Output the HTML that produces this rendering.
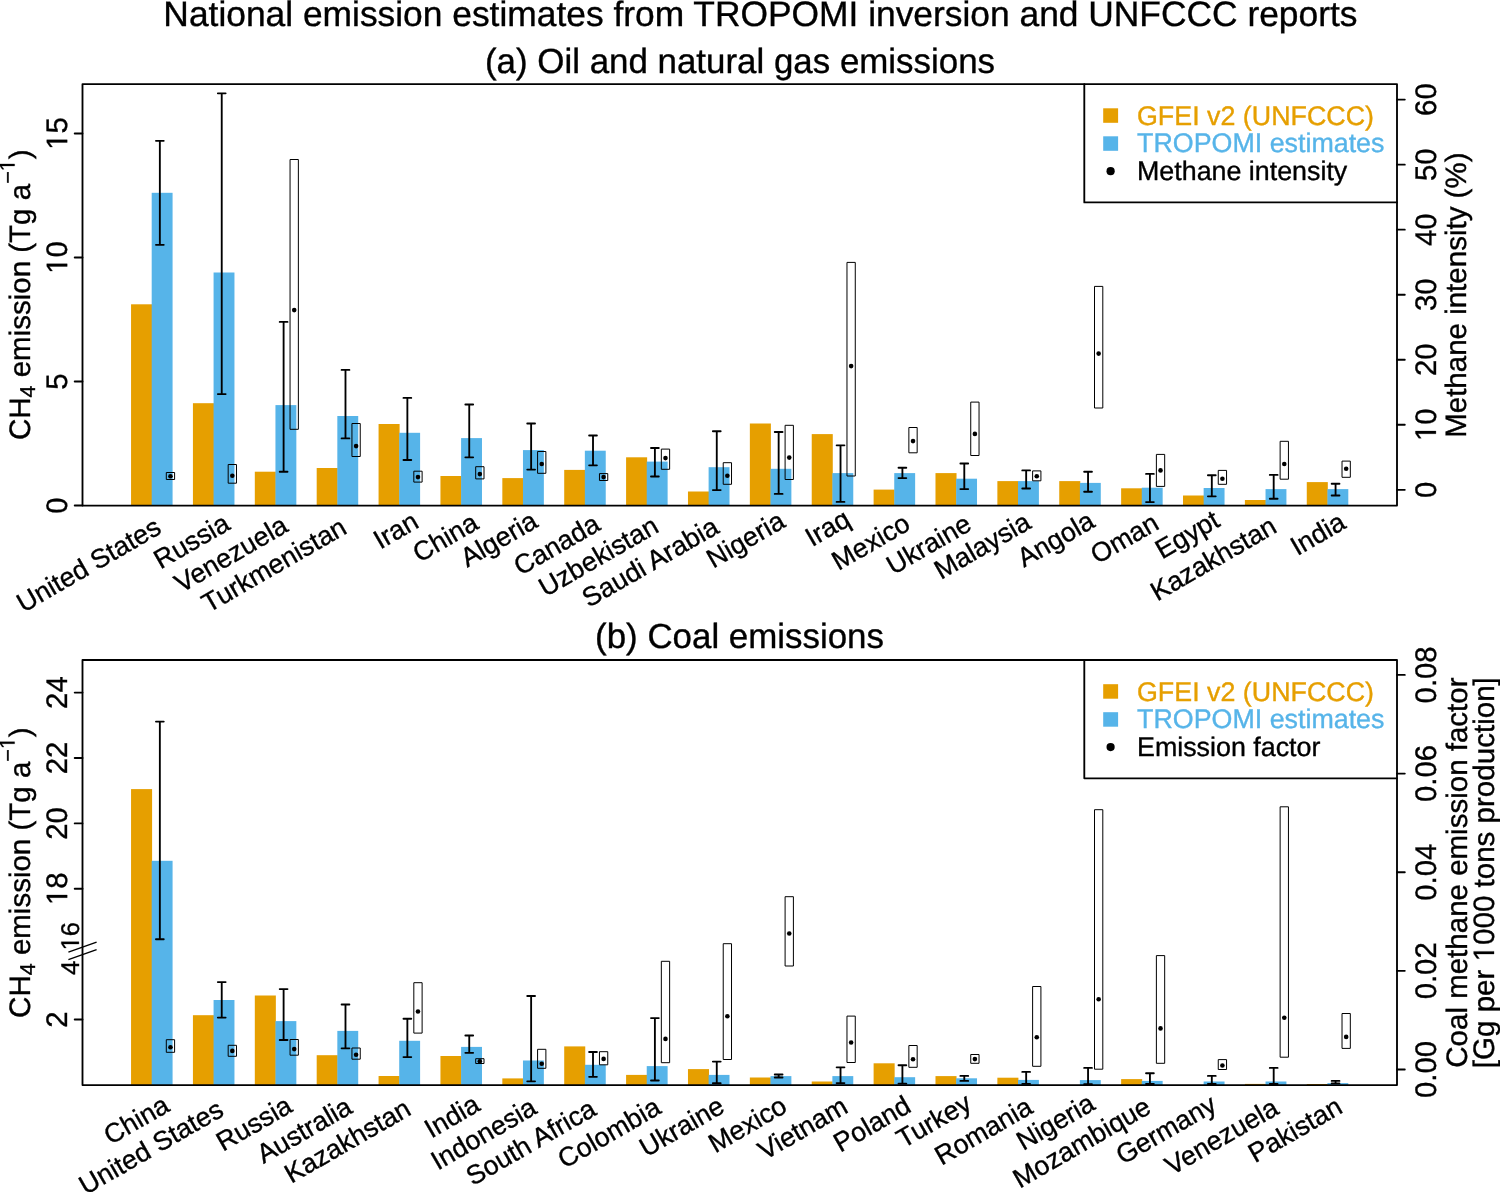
<!DOCTYPE html>
<html><head><meta charset="utf-8"><title>National emission estimates</title>
<style>html,body{margin:0;padding:0;background:#fff}svg{display:block;will-change:transform}text{font-family:"Liberation Sans",sans-serif;stroke:#000;stroke-width:.36px;text-rendering:geometricPrecision}.to{stroke:#E69F00}.tb{stroke:#56B4E9}.eb{stroke:#000;stroke-width:1.85;fill:none;stroke-linecap:round}.bx{stroke:#000;stroke-width:1;fill:none;stroke-linejoin:round}.fr{stroke:#000;stroke-width:1.85;fill:none;stroke-linejoin:round;stroke-linecap:round}.tk{stroke:#000;stroke-width:1.85;fill:none;stroke-linecap:round}</style></head><body>
<svg width="1500" height="1192" viewBox="0 0 1500 1192">
<rect width="1500" height="1192" fill="#fff"/>
<text x="760.4" y="25.7" text-anchor="middle" font-size="35.36">National emission estimates from TROPOMI inversion and UNFCCC reports</text>
<text x="740" y="72.9" text-anchor="middle" font-size="34.9">(a) Oil and natural gas emissions</text>
<text x="739.5" y="648.3" text-anchor="middle" font-size="34.9">(b) Coal emissions</text>
<rect x="131.05" y="304.3" width="21.04" height="201.25" fill="#E69F00"/>
<rect x="151.69" y="192.8" width="20.89" height="312.75" fill="#56B4E9"/>
<rect x="192.93" y="403.2" width="21.04" height="102.35" fill="#E69F00"/>
<rect x="213.57" y="272.5" width="20.89" height="233.05" fill="#56B4E9"/>
<rect x="254.81" y="471.7" width="21.04" height="33.85" fill="#E69F00"/>
<rect x="275.45" y="405.1" width="20.89" height="100.45" fill="#56B4E9"/>
<rect x="316.69" y="468" width="21.04" height="37.55" fill="#E69F00"/>
<rect x="337.33" y="416" width="20.89" height="89.55" fill="#56B4E9"/>
<rect x="378.57" y="424" width="21.04" height="81.55" fill="#E69F00"/>
<rect x="399.21" y="432.8" width="20.89" height="72.75" fill="#56B4E9"/>
<rect x="440.45" y="476" width="21.04" height="29.55" fill="#E69F00"/>
<rect x="461.09" y="438.1" width="20.89" height="67.45" fill="#56B4E9"/>
<rect x="502.33" y="478.1" width="21.04" height="27.45" fill="#E69F00"/>
<rect x="522.97" y="450.1" width="20.89" height="55.45" fill="#56B4E9"/>
<rect x="564.21" y="469.9" width="21.04" height="35.65" fill="#E69F00"/>
<rect x="584.85" y="450.7" width="20.89" height="54.85" fill="#56B4E9"/>
<rect x="626.09" y="457.3" width="21.04" height="48.25" fill="#E69F00"/>
<rect x="646.73" y="461.6" width="20.89" height="43.95" fill="#56B4E9"/>
<rect x="687.97" y="491.5" width="21.04" height="14.05" fill="#E69F00"/>
<rect x="708.61" y="467.2" width="20.89" height="38.35" fill="#56B4E9"/>
<rect x="749.85" y="423.5" width="21.04" height="82.05" fill="#E69F00"/>
<rect x="770.49" y="468.8" width="20.89" height="36.75" fill="#56B4E9"/>
<rect x="811.73" y="434.1" width="21.04" height="71.45" fill="#E69F00"/>
<rect x="832.37" y="473.1" width="20.89" height="32.45" fill="#56B4E9"/>
<rect x="873.61" y="489.6" width="21.04" height="15.95" fill="#E69F00"/>
<rect x="894.25" y="473.1" width="20.89" height="32.45" fill="#56B4E9"/>
<rect x="935.49" y="473.1" width="21.04" height="32.45" fill="#E69F00"/>
<rect x="956.13" y="478.7" width="20.89" height="26.85" fill="#56B4E9"/>
<rect x="997.37" y="481.1" width="21.04" height="24.45" fill="#E69F00"/>
<rect x="1018.01" y="481.1" width="20.89" height="24.45" fill="#56B4E9"/>
<rect x="1059.25" y="481.1" width="21.04" height="24.45" fill="#E69F00"/>
<rect x="1079.89" y="482.9" width="20.89" height="22.65" fill="#56B4E9"/>
<rect x="1121.13" y="488.3" width="21.04" height="17.25" fill="#E69F00"/>
<rect x="1141.77" y="487.7" width="20.89" height="17.85" fill="#56B4E9"/>
<rect x="1183.01" y="495.5" width="21.04" height="10.05" fill="#E69F00"/>
<rect x="1203.65" y="488" width="20.89" height="17.55" fill="#56B4E9"/>
<rect x="1244.89" y="500" width="21.04" height="5.55" fill="#E69F00"/>
<rect x="1265.53" y="489.1" width="20.89" height="16.45" fill="#56B4E9"/>
<rect x="1306.77" y="482.1" width="21.04" height="23.45" fill="#E69F00"/>
<rect x="1327.41" y="489.1" width="20.89" height="16.45" fill="#56B4E9"/>
<path d="M159.85 140.8V244.8M155.95 140.8h7.8M155.95 244.8h7.8" class="eb"/>
<path d="M221.73 93.3V394.1M217.83 93.3h7.8M217.83 394.1h7.8" class="eb"/>
<path d="M283.61 321.9V471.7M279.71 321.9h7.8M279.71 471.7h7.8" class="eb"/>
<path d="M345.49 369.9V438.4M341.59 369.9h7.8M341.59 438.4h7.8" class="eb"/>
<path d="M407.37 397.9V460M403.47 397.9h7.8M403.47 460h7.8" class="eb"/>
<path d="M469.25 404.5V457.3M465.35 404.5h7.8M465.35 457.3h7.8" class="eb"/>
<path d="M531.13 423.5V469.6M527.23 423.5h7.8M527.23 469.6h7.8" class="eb"/>
<path d="M593.01 435.5V465.3M589.11 435.5h7.8M589.11 465.3h7.8" class="eb"/>
<path d="M654.89 448V476.5M650.99 448h7.8M650.99 476.5h7.8" class="eb"/>
<path d="M716.77 431.2V490.1M712.87 431.2h7.8M712.87 490.1h7.8" class="eb"/>
<path d="M778.65 432V493.9M774.75 432h7.8M774.75 493.9h7.8" class="eb"/>
<path d="M840.53 445.3V501.9M836.63 445.3h7.8M836.63 501.9h7.8" class="eb"/>
<path d="M902.41 467.7V478.1M898.51 467.7h7.8M898.51 478.1h7.8" class="eb"/>
<path d="M964.29 463.5V489.1M960.39 463.5h7.8M960.39 489.1h7.8" class="eb"/>
<path d="M1026.17 470.4V488.5M1022.27 470.4h7.8M1022.27 488.5h7.8" class="eb"/>
<path d="M1088.05 471.7V491.7M1084.15 471.7h7.8M1084.15 491.7h7.8" class="eb"/>
<path d="M1149.93 473.9V502.1M1146.03 473.9h7.8M1146.03 502.1h7.8" class="eb"/>
<path d="M1211.81 475.2V496.3M1207.91 475.2h7.8M1207.91 496.3h7.8" class="eb"/>
<path d="M1273.69 474.9V498.7M1269.79 474.9h7.8M1269.79 498.7h7.8" class="eb"/>
<path d="M1335.57 483.7V495.5M1331.67 483.7h7.8M1331.67 495.5h7.8" class="eb"/>
<rect x="166.3" y="472.5" width="8.3" height="7" class="bx"/>
<circle cx="170.45" cy="476.3" r="2.3"/>
<rect x="228.18" y="464.5" width="8.3" height="18.7" class="bx"/>
<circle cx="232.33" cy="475.7" r="2.3"/>
<rect x="290.06" y="159.5" width="8.3" height="269.8" class="bx"/>
<circle cx="294.21" cy="310.1" r="2.3"/>
<rect x="351.94" y="423.5" width="8.3" height="33" class="bx"/>
<circle cx="356.09" cy="446.1" r="2.3"/>
<rect x="413.82" y="471.2" width="8.3" height="10.9" class="bx"/>
<circle cx="417.97" cy="477.1" r="2.3"/>
<rect x="475.7" y="466.7" width="8.3" height="12.2" class="bx"/>
<circle cx="479.85" cy="474.1" r="2.3"/>
<rect x="537.58" y="451.5" width="8.3" height="21.8" class="bx"/>
<circle cx="541.73" cy="464" r="2.3"/>
<rect x="599.46" y="473.6" width="8.3" height="6.9" class="bx"/>
<circle cx="603.61" cy="477.1" r="2.3"/>
<rect x="661.34" y="449.1" width="8.3" height="20.2" class="bx"/>
<circle cx="665.49" cy="458.1" r="2.3"/>
<rect x="723.22" y="462.7" width="8.3" height="21.6" class="bx"/>
<circle cx="727.37" cy="475.7" r="2.3"/>
<rect x="785.1" y="425.3" width="8.3" height="54.2" class="bx"/>
<circle cx="789.25" cy="457.6" r="2.3"/>
<rect x="846.98" y="262.4" width="8.3" height="213.6" class="bx"/>
<circle cx="851.13" cy="366.1" r="2.3"/>
<rect x="908.86" y="427.5" width="8.3" height="25.3" class="bx"/>
<circle cx="913.01" cy="441.1" r="2.3"/>
<rect x="970.74" y="402.1" width="8.3" height="53.4" class="bx"/>
<circle cx="974.89" cy="433.9" r="2.3"/>
<rect x="1032.62" y="470.9" width="8.3" height="9.9" class="bx"/>
<circle cx="1036.77" cy="476.3" r="2.3"/>
<rect x="1094.5" y="286.4" width="8.3" height="121.6" class="bx"/>
<circle cx="1098.65" cy="353.6" r="2.3"/>
<rect x="1156.38" y="454.4" width="8.3" height="32" class="bx"/>
<circle cx="1160.53" cy="470.4" r="2.3"/>
<rect x="1218.26" y="470.4" width="8.3" height="13.9" class="bx"/>
<circle cx="1222.41" cy="478.7" r="2.3"/>
<rect x="1280.14" y="441.3" width="8.3" height="37.9" class="bx"/>
<circle cx="1284.29" cy="464" r="2.3"/>
<rect x="1342.02" y="461.1" width="8.3" height="16.2" class="bx"/>
<circle cx="1346.17" cy="468.8" r="2.3"/>
<path d="M82.5 505.55V84.1H1397.0V505.55Z" class="fr"/>
<path d="M1084.3 84.1V202.4H1397.0" class="fr"/>
<rect x="1103.2" y="108.3" width="14.9" height="14.5" fill="#E69F00"/>
<rect x="1103.2" y="136.3" width="14.9" height="14.5" fill="#56B4E9"/>
<circle cx="1110.6" cy="171.2" r="4.1"/>
<text x="1137" y="124.9" font-size="26.83" fill="#E69F00" class="to">GFEI v2 (UNFCCC)</text>
<text x="1137" y="152.4" font-size="26.83" fill="#56B4E9" class="tb">TROPOMI estimates</text>
<text x="1137" y="180.3" font-size="26.83">Methane intensity</text>
<text transform="translate(162.9 532.4) rotate(-30)" text-anchor="end" font-size="26.83">United States</text>
<text transform="translate(231.63 528.45) rotate(-30)" text-anchor="end" font-size="26.83">Russia</text>
<text transform="translate(289.76 530.62) rotate(-30)" text-anchor="end" font-size="26.83">Venezuela</text>
<text transform="translate(348.5 532.43) rotate(-30)" text-anchor="end" font-size="26.83">Turkmenistan</text>
<text transform="translate(420.37 526.66) rotate(-30)" text-anchor="end" font-size="26.83">Iran</text>
<text transform="translate(480.18 527.86) rotate(-30)" text-anchor="end" font-size="26.83">China</text>
<text transform="translate(539.48 526.06) rotate(-30)" text-anchor="end" font-size="26.83">Algeria</text>
<text transform="translate(601.87 529.05) rotate(-30)" text-anchor="end" font-size="26.83">Canada</text>
<text transform="translate(660.4 530.99) rotate(-30)" text-anchor="end" font-size="26.83">Uzbekistan</text>
<text transform="translate(720.59 531.96) rotate(-30)" text-anchor="end" font-size="26.83">Saudi Arabia</text>
<text transform="translate(786.87 526.14) rotate(-30)" text-anchor="end" font-size="26.83">Nigeria</text>
<text transform="translate(852.1 524.2) rotate(-30)" text-anchor="end" font-size="26.83">Iraq</text>
<text transform="translate(912.05 528.6) rotate(-30)" text-anchor="end" font-size="26.83">Mexico</text>
<text transform="translate(973.28 528.97) rotate(-30)" text-anchor="end" font-size="26.83">Ukraine</text>
<text transform="translate(1032.58 527.18) rotate(-30)" text-anchor="end" font-size="26.83">Malaysia</text>
<text transform="translate(1096.39 526.06) rotate(-30)" text-anchor="end" font-size="26.83">Angola</text>
<text transform="translate(1160.6 528) rotate(-30)" text-anchor="end" font-size="26.83">Oman</text>
<text transform="translate(1221.45 525.32) rotate(-30)" text-anchor="end" font-size="26.83">Egypt</text>
<text transform="translate(1278.55 531.36) rotate(-30)" text-anchor="end" font-size="26.83">Kazakhstan</text>
<text transform="translate(1347.53 527.26) rotate(-30)" text-anchor="end" font-size="26.83">India</text>
<rect x="131.05" y="789.1" width="21.04" height="296" fill="#E69F00"/>
<rect x="151.69" y="860.8" width="20.89" height="224.3" fill="#56B4E9"/>
<rect x="192.93" y="1015.2" width="21.04" height="69.9" fill="#E69F00"/>
<rect x="213.57" y="1000" width="20.89" height="85.1" fill="#56B4E9"/>
<rect x="254.81" y="995.5" width="21.04" height="89.6" fill="#E69F00"/>
<rect x="275.45" y="1021.1" width="20.89" height="64" fill="#56B4E9"/>
<rect x="316.69" y="1055.2" width="21.04" height="29.9" fill="#E69F00"/>
<rect x="337.33" y="1030.9" width="20.89" height="54.2" fill="#56B4E9"/>
<rect x="378.57" y="1076" width="21.04" height="9.1" fill="#E69F00"/>
<rect x="399.21" y="1040.8" width="20.89" height="44.3" fill="#56B4E9"/>
<rect x="440.45" y="1056" width="21.04" height="29.1" fill="#E69F00"/>
<rect x="461.09" y="1046.9" width="20.89" height="38.2" fill="#56B4E9"/>
<rect x="502.33" y="1078.4" width="21.04" height="6.7" fill="#E69F00"/>
<rect x="522.97" y="1060.5" width="20.89" height="24.6" fill="#56B4E9"/>
<rect x="564.21" y="1046.4" width="21.04" height="38.7" fill="#E69F00"/>
<rect x="584.85" y="1064.8" width="20.89" height="20.3" fill="#56B4E9"/>
<rect x="626.09" y="1074.9" width="21.04" height="10.2" fill="#E69F00"/>
<rect x="646.73" y="1066.1" width="20.89" height="19" fill="#56B4E9"/>
<rect x="687.97" y="1069.1" width="21.04" height="16" fill="#E69F00"/>
<rect x="708.61" y="1074.9" width="20.89" height="10.2" fill="#56B4E9"/>
<rect x="749.85" y="1077.5" width="21.04" height="7.6" fill="#E69F00"/>
<rect x="770.49" y="1076.1" width="20.89" height="9" fill="#56B4E9"/>
<rect x="811.73" y="1081.5" width="21.04" height="3.6" fill="#E69F00"/>
<rect x="832.37" y="1076.1" width="20.89" height="9" fill="#56B4E9"/>
<rect x="873.61" y="1063.3" width="21.04" height="21.8" fill="#E69F00"/>
<rect x="894.25" y="1077.2" width="20.89" height="7.9" fill="#56B4E9"/>
<rect x="935.49" y="1076.1" width="21.04" height="9" fill="#E69F00"/>
<rect x="956.13" y="1078.3" width="20.89" height="6.8" fill="#56B4E9"/>
<rect x="997.37" y="1077.7" width="21.04" height="7.4" fill="#E69F00"/>
<rect x="1018.01" y="1079.9" width="20.89" height="5.2" fill="#56B4E9"/>
<rect x="1079.89" y="1080.1" width="20.89" height="5" fill="#56B4E9"/>
<rect x="1121.13" y="1079.1" width="21.04" height="6" fill="#E69F00"/>
<rect x="1141.77" y="1080.9" width="20.89" height="4.2" fill="#56B4E9"/>
<rect x="1203.65" y="1081.5" width="20.89" height="3.6" fill="#56B4E9"/>
<rect x="1244.89" y="1083.9" width="21.04" height="1.2" fill="#E69F00"/>
<rect x="1265.53" y="1081.5" width="20.89" height="3.6" fill="#56B4E9"/>
<rect x="1306.77" y="1084" width="21.04" height="1.1" fill="#E69F00"/>
<rect x="1327.41" y="1083.1" width="20.89" height="2" fill="#56B4E9"/>
<path d="M159.85 721.6V939.2M155.95 721.6h7.8M155.95 939.2h7.8" class="eb"/>
<path d="M221.73 982.1V1017.6M217.83 982.1h7.8M217.83 1017.6h7.8" class="eb"/>
<path d="M283.61 989.1V1040M279.71 989.1h7.8M279.71 1040h7.8" class="eb"/>
<path d="M345.49 1004.5V1048.3M341.59 1004.5h7.8M341.59 1048.3h7.8" class="eb"/>
<path d="M407.37 1018.7V1057.1M403.47 1018.7h7.8M403.47 1057.1h7.8" class="eb"/>
<path d="M469.25 1035.5V1052.8M465.35 1035.5h7.8M465.35 1052.8h7.8" class="eb"/>
<path d="M531.13 996V1081.3M527.23 996h7.8M527.23 1081.3h7.8" class="eb"/>
<path d="M593.01 1052V1076.8M589.11 1052h7.8M589.11 1076.8h7.8" class="eb"/>
<path d="M654.89 1018.1V1080.5M650.99 1018.1h7.8M650.99 1080.5h7.8" class="eb"/>
<path d="M716.77 1061.6V1083.2M712.87 1061.6h7.8M712.87 1083.2h7.8" class="eb"/>
<path d="M778.65 1074.5V1077.5M774.75 1074.5h7.8M774.75 1077.5h7.8" class="eb"/>
<path d="M840.53 1067.3V1083.1M836.63 1067.3h7.8M836.63 1083.1h7.8" class="eb"/>
<path d="M902.41 1065.2V1083.6M898.51 1065.2h7.8M898.51 1083.6h7.8" class="eb"/>
<path d="M964.29 1075.9V1080.9M960.39 1075.9h7.8M960.39 1080.9h7.8" class="eb"/>
<path d="M1026.17 1071.9V1083.9M1022.27 1071.9h7.8M1022.27 1083.9h7.8" class="eb"/>
<path d="M1088.05 1067.9V1084.2M1084.15 1067.9h7.8M1084.15 1084.2h7.8" class="eb"/>
<path d="M1149.93 1073.2V1084M1146.03 1073.2h7.8M1146.03 1084h7.8" class="eb"/>
<path d="M1211.81 1075.9V1084M1207.91 1075.9h7.8M1207.91 1084h7.8" class="eb"/>
<path d="M1273.69 1067.9V1084M1269.79 1067.9h7.8M1269.79 1084h7.8" class="eb"/>
<path d="M1335.57 1080.9V1083.3M1331.67 1080.9h7.8M1331.67 1083.3h7.8" class="eb"/>
<rect x="166.3" y="1039.7" width="8.3" height="12.6" class="bx"/>
<circle cx="170.45" cy="1047.2" r="2.3"/>
<rect x="228.18" y="1045.3" width="8.3" height="11" class="bx"/>
<circle cx="232.33" cy="1050.9" r="2.3"/>
<rect x="290.06" y="1039.5" width="8.3" height="15.7" class="bx"/>
<circle cx="294.21" cy="1049.1" r="2.3"/>
<rect x="351.94" y="1048" width="8.3" height="11.2" class="bx"/>
<circle cx="356.09" cy="1054.7" r="2.3"/>
<rect x="413.82" y="982.7" width="8.3" height="50.4" class="bx"/>
<circle cx="417.97" cy="1011.5" r="2.3"/>
<rect x="475.7" y="1058.7" width="8.3" height="4.8" class="bx"/>
<circle cx="479.85" cy="1061.3" r="2.3"/>
<rect x="537.58" y="1049.3" width="8.3" height="19" class="bx"/>
<circle cx="541.73" cy="1063.7" r="2.3"/>
<rect x="599.46" y="1051.7" width="8.3" height="13.1" class="bx"/>
<circle cx="603.61" cy="1058.9" r="2.3"/>
<rect x="661.34" y="961.3" width="8.3" height="101.4" class="bx"/>
<circle cx="665.49" cy="1038.9" r="2.3"/>
<rect x="723.22" y="943.7" width="8.3" height="115.8" class="bx"/>
<circle cx="727.37" cy="1016.2" r="2.3"/>
<rect x="785.1" y="896.7" width="8.3" height="69.3" class="bx"/>
<circle cx="789.25" cy="933.5" r="2.3"/>
<rect x="846.98" y="1016.1" width="8.3" height="46.4" class="bx"/>
<circle cx="851.13" cy="1042.5" r="2.3"/>
<rect x="908.86" y="1045.5" width="8.3" height="21.8" class="bx"/>
<circle cx="913.01" cy="1059.3" r="2.3"/>
<rect x="970.74" y="1054.5" width="8.3" height="8.8" class="bx"/>
<circle cx="974.89" cy="1059.1" r="2.3"/>
<rect x="1032.62" y="986.5" width="8.3" height="79.8" class="bx"/>
<circle cx="1036.77" cy="1037.2" r="2.3"/>
<rect x="1094.5" y="809.7" width="8.3" height="259.5" class="bx"/>
<circle cx="1098.65" cy="999.3" r="2.3"/>
<rect x="1156.38" y="955.6" width="8.3" height="107.7" class="bx"/>
<circle cx="1160.53" cy="1028.4" r="2.3"/>
<rect x="1218.26" y="1059.6" width="8.3" height="9.9" class="bx"/>
<circle cx="1222.41" cy="1065.5" r="2.3"/>
<rect x="1280.14" y="806.8" width="8.3" height="250.4" class="bx"/>
<circle cx="1284.29" cy="1017.7" r="2.3"/>
<rect x="1342.02" y="1013.5" width="8.3" height="34.9" class="bx"/>
<circle cx="1346.17" cy="1036.9" r="2.3"/>
<path d="M82.5 1085.1V660H1397.0V1085.1Z" class="fr"/>
<path d="M1084.3 660V778.3H1397.0" class="fr"/>
<rect x="1103.2" y="684.2" width="14.9" height="14.5" fill="#E69F00"/>
<rect x="1103.2" y="712.2" width="14.9" height="14.5" fill="#56B4E9"/>
<circle cx="1110.6" cy="747.1" r="4.1"/>
<text x="1137" y="700.8" font-size="26.83" fill="#E69F00" class="to">GFEI v2 (UNFCCC)</text>
<text x="1137" y="728.3" font-size="26.83" fill="#56B4E9" class="tb">TROPOMI estimates</text>
<text x="1137" y="756.2" font-size="26.83">Emission factor</text>
<text transform="translate(171.28 1110.21) rotate(-30)" text-anchor="end" font-size="26.83">China</text>
<text transform="translate(225.28 1114.75) rotate(-30)" text-anchor="end" font-size="26.83">United States</text>
<text transform="translate(294.01 1110.8) rotate(-30)" text-anchor="end" font-size="26.83">Russia</text>
<text transform="translate(353.95 1111.92) rotate(-30)" text-anchor="end" font-size="26.83">Australia</text>
<text transform="translate(412.73 1113.71) rotate(-30)" text-anchor="end" font-size="26.83">Kazakhstan</text>
<text transform="translate(481.71 1109.61) rotate(-30)" text-anchor="end" font-size="26.83">India</text>
<text transform="translate(538.55 1112.52) rotate(-30)" text-anchor="end" font-size="26.83">Indonesia</text>
<text transform="translate(597.98 1113.93) rotate(-30)" text-anchor="end" font-size="26.83">South Africa</text>
<text transform="translate(662.58 1112.37) rotate(-30)" text-anchor="end" font-size="26.83">Colombia</text>
<text transform="translate(726.26 1111.32) rotate(-30)" text-anchor="end" font-size="26.83">Ukraine</text>
<text transform="translate(788.79 1110.95) rotate(-30)" text-anchor="end" font-size="26.83">Mexico</text>
<text transform="translate(849.55 1111.6) rotate(-30)" text-anchor="end" font-size="26.83">Vietnam</text>
<text transform="translate(912.67 1110.88) rotate(-30)" text-anchor="end" font-size="26.83">Poland</text>
<text transform="translate(973.35 1108.29) rotate(-30)" text-anchor="end" font-size="26.83">Turkey</text>
<text transform="translate(1034.37 1112.07) rotate(-30)" text-anchor="end" font-size="26.83">Romania</text>
<text transform="translate(1096.77 1108.49) rotate(-30)" text-anchor="end" font-size="26.83">Nigeria</text>
<text transform="translate(1152.71 1111.92) rotate(-30)" text-anchor="end" font-size="26.83">Mozambique</text>
<text transform="translate(1218.33 1109.75) rotate(-30)" text-anchor="end" font-size="26.83">Germany</text>
<text transform="translate(1280.34 1112.97) rotate(-30)" text-anchor="end" font-size="26.83">Venezuela</text>
<text transform="translate(1344.16 1111.85) rotate(-30)" text-anchor="end" font-size="26.83">Pakistan</text>
<path d="M82.5 505.5h-7.8" class="tk"/>
<g transform="translate(67.2 505.5) rotate(-90) scale(1 1.015)"><text x="-8.15" font-size="29.3" style="white-space:pre">0</text></g>
<path d="M82.5 381.5h-7.8" class="tk"/>
<g transform="translate(67.2 381.5) rotate(-90) scale(1 1.015)"><text x="-8.15" font-size="29.3" style="white-space:pre">5</text></g>
<path d="M82.5 257.5h-7.8" class="tk"/>
<g transform="translate(67.2 257.5) rotate(-90) scale(1 1.015)"><text x="-16.3" font-size="29.3" style="white-space:pre">  0</text><path transform="translate(-16.3 0) scale(0.01431 -0.01431)" d="M515 0V1237L197 1010V1180L530 1409H696V0Z" stroke="#000" stroke-width="21.0"/></g>
<path d="M82.5 133.5h-7.8" class="tk"/>
<g transform="translate(67.2 133.5) rotate(-90) scale(1 1.015)"><text x="-16.3" font-size="29.3" style="white-space:pre">  5</text><path transform="translate(-16.3 0) scale(0.01431 -0.01431)" d="M515 0V1237L197 1010V1180L530 1409H696V0Z" stroke="#000" stroke-width="21.0"/></g>
<path d="M1397.0 489.8h7.8" class="tk"/>
<g transform="translate(1435.9 489.8) rotate(-90) scale(1 1.015)"><text x="-8.15" font-size="29.3" style="white-space:pre">0</text></g>
<path d="M1397.0 424.77h7.8" class="tk"/>
<g transform="translate(1435.9 424.77) rotate(-90) scale(1 1.015)"><text x="-16.3" font-size="29.3" style="white-space:pre">  0</text><path transform="translate(-16.3 0) scale(0.01431 -0.01431)" d="M515 0V1237L197 1010V1180L530 1409H696V0Z" stroke="#000" stroke-width="21.0"/></g>
<path d="M1397.0 359.74h7.8" class="tk"/>
<g transform="translate(1435.9 359.74) rotate(-90) scale(1 1.015)"><text x="-16.3" font-size="29.3" style="white-space:pre">20</text></g>
<path d="M1397.0 294.71h7.8" class="tk"/>
<g transform="translate(1435.9 294.71) rotate(-90) scale(1 1.015)"><text x="-16.3" font-size="29.3" style="white-space:pre">30</text></g>
<path d="M1397.0 229.68h7.8" class="tk"/>
<g transform="translate(1435.9 229.68) rotate(-90) scale(1 1.015)"><text x="-16.3" font-size="29.3" style="white-space:pre">40</text></g>
<path d="M1397.0 164.65h7.8" class="tk"/>
<g transform="translate(1435.9 164.65) rotate(-90) scale(1 1.015)"><text x="-16.3" font-size="29.3" style="white-space:pre">50</text></g>
<path d="M1397.0 99.62h7.8" class="tk"/>
<g transform="translate(1435.9 99.62) rotate(-90) scale(1 1.015)"><text x="-16.3" font-size="29.3" style="white-space:pre">60</text></g>
<g transform="translate(30 294.8) rotate(-90)"><text x="-145.3" y="0" font-size="29.5" style="white-space:pre">CH</text><text x="-102.69" y="5" font-size="21.5" style="white-space:pre">4</text><text x="-90.72" y="0" font-size="29.5" style="white-space:pre"> emission (Tg a</text><text x="110.94" y="-15.4" font-size="21.5" style="white-space:pre">−</text><path transform="translate(123.5 -15.4) scale(0.01050 -0.01050)" d="M515 0V1237L197 1010V1180L530 1409H696V0Z" stroke="#000" stroke-width="28.6"/><text x="135.47" y="0" font-size="29.5" style="white-space:pre">)</text></g>
<text transform="translate(1466.2 295.2) rotate(-90)" text-anchor="middle" font-size="29.5">Methane intensity (%)</text>
<path d="M82.5 1019.5h-7.8" class="tk"/>
<g transform="translate(67.2 1019.5) rotate(-90) scale(1 1.015)"><text x="-8.15" font-size="29.3" style="white-space:pre">2</text></g>
<path d="M82.5 888.7h-7.8" class="tk"/>
<g transform="translate(67.2 888.7) rotate(-90) scale(1 1.015)"><text x="-16.3" font-size="29.3" style="white-space:pre">  8</text><path transform="translate(-16.3 0) scale(0.01431 -0.01431)" d="M515 0V1237L197 1010V1180L530 1409H696V0Z" stroke="#000" stroke-width="21.0"/></g>
<path d="M82.5 823.4h-7.8" class="tk"/>
<g transform="translate(67.2 823.4) rotate(-90) scale(1 1.015)"><text x="-16.3" font-size="29.3" style="white-space:pre">20</text></g>
<path d="M82.5 758h-7.8" class="tk"/>
<g transform="translate(67.2 758) rotate(-90) scale(1 1.015)"><text x="-16.3" font-size="29.3" style="white-space:pre">22</text></g>
<path d="M82.5 692.6h-7.8" class="tk"/>
<g transform="translate(67.2 692.6) rotate(-90) scale(1 1.015)"><text x="-16.3" font-size="29.3" style="white-space:pre">24</text></g>
<g transform="translate(78.9 936.2) rotate(-90)"><text x="-14.24" font-size="25.6" style="white-space:pre">  6</text><path transform="translate(-14.24 0) scale(0.01250 -0.01250)" d="M515 0V1237L197 1010V1180L530 1409H696V0Z" stroke="#000" stroke-width="24.0"/></g>
<g transform="translate(78.9 968) rotate(-90)"><text x="-7.12" font-size="25.6" style="white-space:pre">4</text></g>
<path d="M68.4 952.2L96.6 942.1M68.4 959.6L96.6 949.6" stroke="#000" stroke-width="1.4" fill="none"/>
<path d="M1397.0 1069.5h7.8" class="tk"/>
<g transform="translate(1435.9 1069.5) rotate(-90) scale(1 1.015)"><text x="-28.51" font-size="29.3" style="white-space:pre">0.00</text></g>
<path d="M1397.0 970.85h7.8" class="tk"/>
<g transform="translate(1435.9 970.85) rotate(-90) scale(1 1.015)"><text x="-28.51" font-size="29.3" style="white-space:pre">0.02</text></g>
<path d="M1397.0 872.2h7.8" class="tk"/>
<g transform="translate(1435.9 872.2) rotate(-90) scale(1 1.015)"><text x="-28.51" font-size="29.3" style="white-space:pre">0.04</text></g>
<path d="M1397.0 773.55h7.8" class="tk"/>
<g transform="translate(1435.9 773.55) rotate(-90) scale(1 1.015)"><text x="-28.51" font-size="29.3" style="white-space:pre">0.06</text></g>
<path d="M1397.0 674.9h7.8" class="tk"/>
<g transform="translate(1435.9 674.9) rotate(-90) scale(1 1.015)"><text x="-28.51" font-size="29.3" style="white-space:pre">0.08</text></g>
<g transform="translate(30 872.6) rotate(-90)"><text x="-145.3" y="0" font-size="29.5" style="white-space:pre">CH</text><text x="-102.69" y="5" font-size="21.5" style="white-space:pre">4</text><text x="-90.72" y="0" font-size="29.5" style="white-space:pre"> emission (Tg a</text><text x="110.94" y="-15.4" font-size="21.5" style="white-space:pre">−</text><path transform="translate(123.5 -15.4) scale(0.01050 -0.01050)" d="M515 0V1237L197 1010V1180L530 1409H696V0Z" stroke="#000" stroke-width="28.6"/><text x="135.47" y="0" font-size="29.5" style="white-space:pre">)</text></g>
<text transform="translate(1466.6 872.6) rotate(-90)" text-anchor="middle" font-size="29.5">Coal methane emission factor</text>
<g transform="translate(1494 872.7) rotate(-90)"><text x="-195.48" y="0" font-size="29.55" style="white-space:pre">[Gg per </text><path transform="translate(-88.73 0) scale(0.01443 -0.01443)" d="M515 0V1237L197 1010V1180L530 1409H696V0Z" stroke="#000" stroke-width="20.8"/><text x="-72.29" y="0" font-size="29.55" style="white-space:pre">000 tons production]</text></g>
</svg></body></html>
